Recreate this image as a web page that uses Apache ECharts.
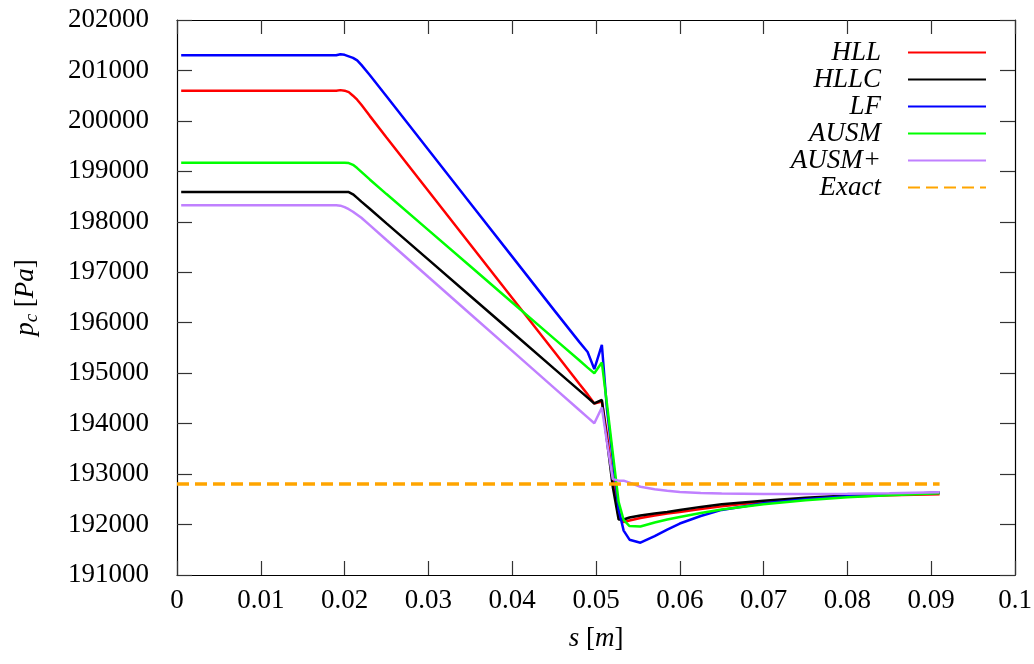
<!DOCTYPE html>
<html>
<head>
<meta charset="utf-8">
<title>p_c along s</title>
<script src="https://cdn.jsdelivr.net/npm/echarts@6/dist/echarts.min.js"></script>
<style>
  html, body { margin: 0; padding: 0; background: #ffffff; }
  #chart { width: 1034px; height: 664px; }
</style>
</head>
<body>
<div id="chart"></div>
<script>
// Position along the duct, s [m]
const s = [0.0005, 0.005, 0.01, 0.015, 0.019, 0.0195, 0.020, 0.0205, 0.021, 0.0215,
           0.022, 0.023, 0.025, 0.03, 0.035, 0.04, 0.045, 0.048, 0.049, 0.0498,
           0.0507, 0.0513, 0.052, 0.0527, 0.0533, 0.054, 0.0553, 0.057, 0.0585, 0.06,
           0.0625, 0.065, 0.07, 0.075, 0.08, 0.085, 0.091];

// Pressure p_c [Pa] for each flux scheme
const hll = [200600, 200600, 200600, 200600, 200600, 200610, 200600, 200570, 200500, 200420,
             200320, 200100, 199670, 198610, 197550, 196490, 195430, 194790, 194580, 194400,
             194440, 193800, 192900, 192150, 192050, 192080, 192130, 192180, 192220, 192250,
             192310, 192360, 192450, 192510, 192555, 192580, 192600];
const hllc = [198590, 198590, 198590, 198590, 198590, 198590, 198590, 198590, 198545, 198475,
              198400, 198260, 197970, 197250, 196530, 195810, 195090, 194660, 194515, 194400,
              194470, 193680, 192750, 192100, 192100, 192140, 192180, 192220, 192250, 192290,
              192350, 192400, 192470, 192530, 192575, 192600, 192630];
const lf = [201300, 201300, 201300, 201300, 201300, 201320, 201310, 201280, 201250, 201200,
            201110, 200910, 200490, 199430, 198370, 197310, 196250, 195620, 195420, 195080,
            195560, 194300, 193300, 192300, 191880, 191700, 191640, 191770, 191900, 192020,
            192170, 192290, 192420, 192500, 192560, 192600, 192630];
const ausm = [199170, 199170, 199170, 199170, 199170, 199170, 199170, 199165, 199130, 199065,
              198990, 198840, 198550, 197835, 197118, 196400, 195685, 195255, 195110, 195000,
              195210, 194400, 193420, 192450, 192090, 191970, 191960, 192040, 192100, 192150,
              192230, 192300, 192400, 192480, 192540, 192580, 192620];
const ausmPlus = [198330, 198330, 198330, 198330, 198330, 198320, 198290, 198250, 198200, 198140,
                  198080, 197934, 197640, 196906, 196174, 195442, 194710, 194270, 194124, 194007,
                  194320, 193640, 192900, 192870, 192870, 192830, 192750, 192700, 192670, 192645,
                  192625, 192615, 192605, 192605, 192610, 192620, 192640];

// Exact solution (constant)
const exactS = [0, 0.091];
const exactP = [192805, 192805];

const seriesNames = ['HLL', 'HLLC', 'LF', 'AUSM', 'AUSM+', 'Exact'];
const seriesColors = ['#ff0000', '#000000', '#0000ff', '#00ff00', '#c080ff', '#ffa500'];

const FONT = '"Liberation Serif", "DejaVu Serif", serif';

function pairs(xs, ys) { return xs.map((x, i) => [x, ys[i]]); }

const values = [hll, hllc, lf, ausm, ausmPlus];
const series = values.map((v, k) => ({
  name: seriesNames[k],
  type: 'line',
  data: pairs(s, v),
  symbol: 'none',
  smooth: false,
  z: 2 + k,
  lineStyle: { color: seriesColors[k], width: 2.5 },
  itemStyle: { color: seriesColors[k] }
}));
series.push({
  name: seriesNames[5],
  type: 'line',
  data: pairs(exactS, exactP),
  symbol: 'none',
  z: 8,
  lineStyle: { color: seriesColors[5], width: 3.5, type: [12, 6] },
  itemStyle: { color: seriesColors[5] }
});

const axisLineStyle = { color: '#000000', width: 1.2 };
const tickStyle = { color: '#333333', width: 1.2 };

const chart = echarts.init(document.getElementById('chart'), null, { renderer: 'canvas' });
chart.setOption({
  backgroundColor: '#ffffff',
  animation: false,
  grid: { left: 177, right: 19, top: 20, bottom: 89, show: false, outerBoundsMode: 'none', containLabel: false },
  legend: {
    orient: 'vertical',
    right: 42,
    top: 34,
    align: 'right',
    itemWidth: 78,
    itemHeight: 14,
    itemGap: 0,
    itemStyle: { opacity: 0 },
    data: seriesNames.map(n => ({ name: n })),
    textStyle: {
      fontFamily: FONT,
      fontStyle: 'italic',
      fontSize: 27,
      lineHeight: 22,
      color: '#000000',
      padding: [0, 22, 0, 0]
    }
  },
  xAxis: [
    {
      type: 'value', min: 0, max: 0.1, interval: 0.01,
      name: '{i|s} [{i|m}]', nameLocation: 'middle', nameGap: 50,
      nameTextStyle: {
        fontFamily: FONT, fontSize: 27, color: '#000000',
        rich: { i: { fontFamily: FONT, fontSize: 27, fontStyle: 'italic', color: '#000000' } }
      },
      axisLine: { show: true, onZero: false, lineStyle: axisLineStyle },
      axisTick: { show: true, inside: true, length: 14, lineStyle: tickStyle },
      axisLabel: {
        fontFamily: FONT, fontSize: 27, color: '#000000', margin: 12,
        formatter: v => String(+v.toFixed(2))
      },
      splitLine: { show: false }
    },
    {
      type: 'value', position: 'top', min: 0, max: 0.1, interval: 0.01,
      axisLine: { show: true, onZero: false, lineStyle: axisLineStyle },
      axisTick: { show: true, inside: true, length: 14, lineStyle: tickStyle },
      axisLabel: { show: false },
      splitLine: { show: false }
    }
  ],
  yAxis: [
    {
      type: 'value', min: 191000, max: 202000, interval: 1000,
      name: '{i|p}{sub|c} [{i|Pa}]', nameLocation: 'middle', nameGap: 136, nameRotate: 90,
      nameTextStyle: {
        fontFamily: FONT, fontSize: 27, color: '#000000',
        rich: {
          i: { fontFamily: FONT, fontSize: 27, fontStyle: 'italic', color: '#000000' },
          sub: { fontFamily: FONT, fontSize: 19, fontStyle: 'italic', color: '#000000', padding: [12, 0, 0, 0] }
        }
      },
      axisLine: { show: true, onZero: false, lineStyle: axisLineStyle },
      axisTick: { show: true, inside: true, length: 15, lineStyle: tickStyle },
      axisLabel: {
        fontFamily: FONT, fontSize: 27, color: '#000000', margin: 28,
        formatter: v => String(v)
      },
      splitLine: { show: false }
    },
    {
      type: 'value', position: 'right', min: 191000, max: 202000, interval: 1000,
      axisLine: { show: true, onZero: false, lineStyle: axisLineStyle },
      axisTick: { show: true, inside: true, length: 15, lineStyle: tickStyle },
      axisLabel: { show: false },
      splitLine: { show: false }
    }
  ],
  series: series
});
</script>
</body>
</html>
